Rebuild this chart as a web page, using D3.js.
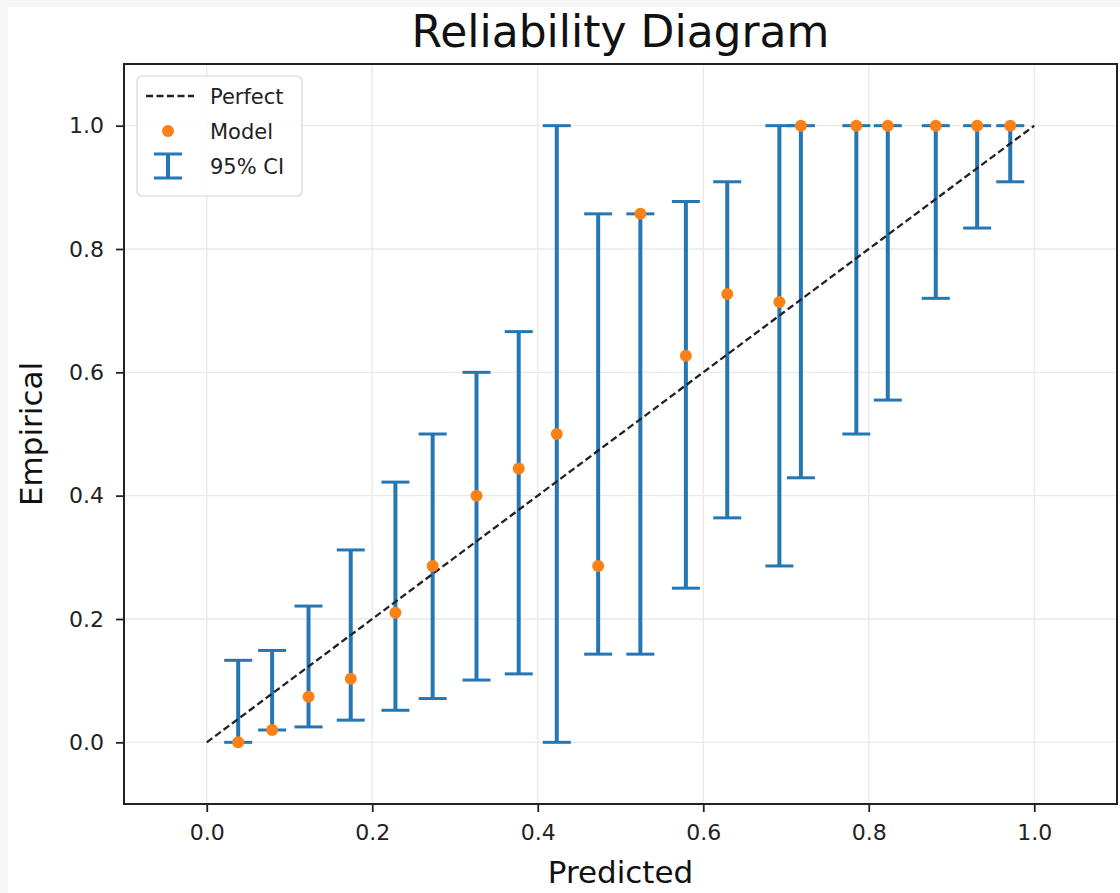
<!DOCTYPE html>
<html>
<head>
<meta charset="utf-8">
<script src="https://cdn.jsdelivr.net/npm/d3@7"></script>
<style>
  body { margin: 0; background: #f7f5f5; }
  svg { display: block; font-family: "DejaVu Sans", sans-serif; }
</style>
</head>
<body>
<svg id="chart" width="1120" height="893"></svg>
<script>
(function() {

  // Data
  var predicted = [0.038, 0.079, 0.123, 0.174, 0.228, 0.273, 0.326, 0.377, 0.423, 0.473,
                   0.524, 0.579, 0.629, 0.692, 0.718, 0.785, 0.823, 0.881, 0.931, 0.971];
  var empirical = [0.0, 0.02, 0.074, 0.103, 0.21, 0.286, 0.4, 0.444, 0.5, 0.286,
                   0.857, 0.627, 0.727, 0.714, 1.0, 1.0, 1.0, 1.0, 1.0, 1.0];
  var ciLow     = [0.0, 0.02, 0.025, 0.036, 0.052, 0.071, 0.101, 0.111, 0.0, 0.143,
                   0.143, 0.25, 0.364, 0.286, 0.429, 0.5, 0.555, 0.72, 0.834, 0.909];
  var ciHigh    = [0.133, 0.149, 0.221, 0.312, 0.422, 0.5, 0.6, 0.666, 1.0, 0.857,
                   0.857, 0.877, 0.909, 1.0, 1.0, 1.0, 1.0, 1.0, 1.0, 1.0];
  var tickValues = [0.0, 0.2, 0.4, 0.6, 0.8, 1.0];
  var legendLabels = ["Perfect", "Model", "95% CI"];

  // Design variables
  var blue = "#2477b3";
  var orange = "#fb8116";
  var capHalf = 14;
  var left = 124, right = 1117, top = 64, bottom = 804;

  var svg = d3.select("#chart");

  // white figure area (screenshot has a thin grey margin top/left)
  svg.append("rect")
      .attr("x", 8).attr("y", 7)
      .attr("width", 1112).attr("height", 886)
      .attr("fill", "#fff");

  // Scales
  var x = d3.scaleLinear().domain([-0.1, 1.1]).range([left, right]);
  var y = d3.scaleLinear().domain([-0.1, 1.1]).range([bottom, top]);

  // Grid
  var grid = svg.append("g").attr("class", "grid");
  grid.selectAll(".gx").data(tickValues).enter().append("line")
      .attr("x1", function(d) { return x(d); })
      .attr("x2", function(d) { return x(d); })
      .attr("y1", top).attr("y2", bottom)
      .attr("stroke", "#e9e9e9").attr("stroke-width", 1.3);
  grid.selectAll(".gy").data(tickValues).enter().append("line")
      .attr("y1", function(d) { return y(d); })
      .attr("y2", function(d) { return y(d); })
      .attr("x1", left).attr("x2", right)
      .attr("stroke", "#e9e9e9").attr("stroke-width", 1.3);

  // Error bars
  var data = predicted.map(function(p, i) {
    return { x: p, y: empirical[i], lo: ciLow[i], hi: ciHigh[i] };
  });

  var bars = svg.append("g").attr("class", "errorbars")
      .selectAll("g").data(data).enter().append("g");
  bars.append("line")
      .attr("x1", function(d) { return x(d.x); })
      .attr("x2", function(d) { return x(d.x); })
      .attr("y1", function(d) { return y(d.lo); })
      .attr("y2", function(d) { return y(d.hi); })
      .attr("stroke", blue).attr("stroke-width", 4);
  ["lo", "hi"].forEach(function(k) {
    bars.append("line")
        .attr("x1", function(d) { return x(d.x) - capHalf; })
        .attr("x2", function(d) { return x(d.x) + capHalf; })
        .attr("y1", function(d) { return y(d[k]); })
        .attr("y2", function(d) { return y(d[k]); })
        .attr("stroke", blue).attr("stroke-width", 3);
  });

  // Perfect calibration line
  svg.append("line")
      .attr("x1", x(0)).attr("y1", y(0))
      .attr("x2", x(1)).attr("y2", y(1))
      .attr("stroke", "#222").attr("stroke-width", 2.3)
      .attr("stroke-dasharray", "7,3.5");

  // Model points
  svg.append("g").selectAll("circle").data(data).enter().append("circle")
      .attr("cx", function(d) { return x(d.x); })
      .attr("cy", function(d) { return y(d.y); })
      .attr("r", 6)
      .attr("fill", orange);

  // Axes
  var xAxis = d3.axisBottom(x).tickValues(tickValues).tickFormat(d3.format(".1f"))
      .tickSize(8).tickPadding(12);
  var yAxis = d3.axisLeft(y).tickValues(tickValues).tickFormat(d3.format(".1f"))
      .tickSize(8).tickPadding(12);

  var gx = svg.append("g").attr("transform", "translate(0," + bottom + ")").call(xAxis);
  var gy = svg.append("g").attr("transform", "translate(" + left + ",0)").call(yAxis);
  [gx, gy].forEach(function(g) {
    g.select(".domain").remove();
    g.selectAll(".tick line").attr("stroke", "#222").attr("stroke-width", 1.8);
    g.selectAll(".tick text").attr("fill", "#222")
        .style("font-size", "22px").style("font-family", "DejaVu Sans");
  });

  // frame
  svg.append("rect")
      .attr("x", left).attr("y", top)
      .attr("width", right - left).attr("height", bottom - top)
      .attr("fill", "none").attr("stroke", "#222").attr("stroke-width", 2);

  // Titles
  svg.append("text")
      .attr("x", (left + right) / 2).attr("y", 47)
      .attr("text-anchor", "middle")
      .style("font-size", "44px").attr("fill", "#111")
      .text("Reliability Diagram");
  svg.append("text")
      .attr("x", (left + right) / 2).attr("y", 883)
      .attr("text-anchor", "middle")
      .style("font-size", "31px").attr("fill", "#111")
      .text("Predicted");
  svg.append("text")
      .attr("transform", "translate(42," + (top + bottom) / 2 + ") rotate(-90)")
      .attr("text-anchor", "middle")
      .style("font-size", "31px").attr("fill", "#111")
      .text("Empirical");

  // Legend
  var legend = svg.append("g").attr("transform", "translate(137,76)");
  legend.append("rect")
      .attr("width", 165).attr("height", 120)
      .attr("rx", 5)
      .attr("fill", "#fff").attr("fill-opacity", 0.85)
      .attr("stroke", "#d6d6d6").attr("stroke-width", 1.2);

  var rowY = [20, 55, 90];
  var item = legend.selectAll(".item").data(legendLabels).enter().append("g")
      .attr("transform", function(d, i) { return "translate(0," + rowY[i] + ")"; });
  item.append("text")
      .attr("x", 73).attr("dy", "0.36em")
      .style("font-size", "21px").attr("fill", "#222")
      .text(function(d) { return d; });

  item.filter(function(d, i) { return i === 0; }).append("line")
      .attr("x1", 9).attr("x2", 57).attr("stroke", "#222")
      .attr("stroke-width", 2.3).attr("stroke-dasharray", "7,3.5");
  item.filter(function(d, i) { return i === 1; }).append("circle")
      .attr("cx", 31).attr("r", 6).attr("fill", orange);
  var ci = item.filter(function(d, i) { return i === 2; });
  ci.append("line").attr("x1", 31).attr("x2", 31).attr("y1", -12).attr("y2", 12)
      .attr("stroke", blue).attr("stroke-width", 4);
  [-12, 12].forEach(function(v) {
    ci.append("line").attr("x1", 17).attr("x2", 45).attr("y1", v).attr("y2", v)
        .attr("stroke", blue).attr("stroke-width", 3);
  });

})();
</script>
</body>
</html>
